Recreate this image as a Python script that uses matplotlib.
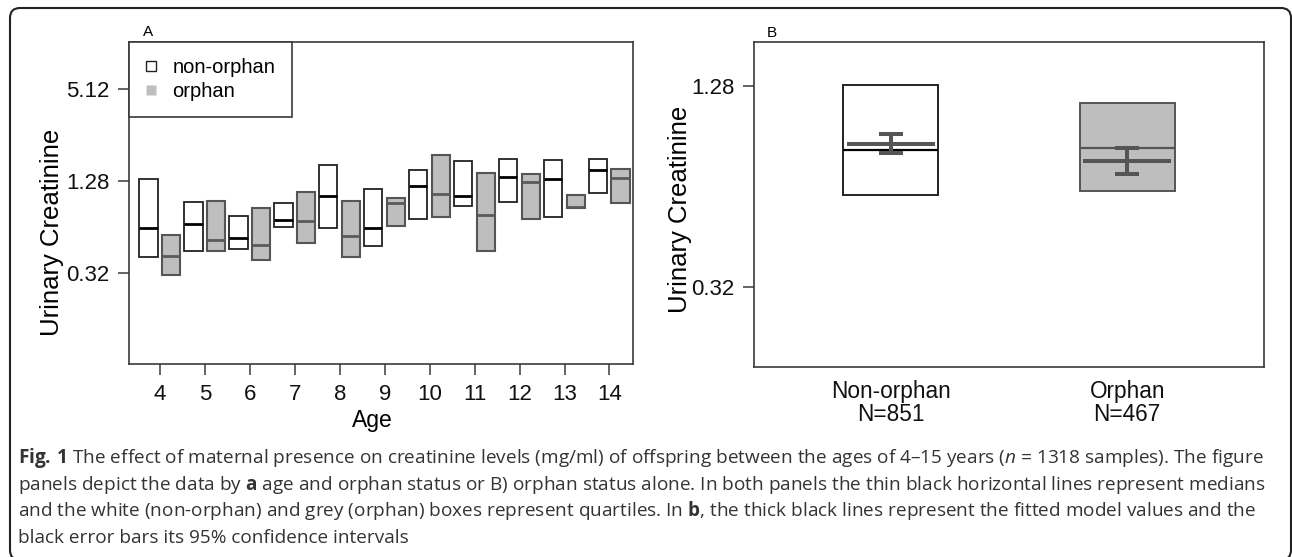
import matplotlib
matplotlib.use('Agg')
import matplotlib.pyplot as plt
from matplotlib.lines import Line2D
from matplotlib.patches import FancyBboxPatch
from matplotlib.ticker import NullLocator
import numpy as np

plt.rcParams['font.family'] = ['Liberation Sans', 'DejaVu Sans']
plt.rcParams['mathtext.fontset'] = 'custom'
plt.rcParams['mathtext.rm'] = 'Open Sans'
plt.rcParams['mathtext.bf'] = 'Open Sans:bold'
plt.rcParams['mathtext.it'] = 'Open Sans:italic'

# Panel A: quartiles and medians by age
ages = [4, 5, 6, 7, 8, 9, 10, 11, 12, 13, 14]
non_q1 = [0.407, 0.448, 0.459, 0.639, 0.628, 0.480, 0.720, 0.883, 0.934, 0.749, 1.074]
non_med = [0.628, 0.667, 0.547, 0.713, 1.027, 0.632, 1.193, 1.021, 1.359, 1.319, 1.509]
non_q3 = [1.312, 0.938, 0.753, 0.915, 1.619, 1.135, 1.509, 1.737, 1.790, 1.746, 1.772]
orph_q1 = [0.311, 0.448, 0.391, 0.507, 0.411, 0.655, 0.745, 0.448, 0.727, 0.849, 0.920]
orph_med = [0.417, 0.530, 0.488, 0.703, 0.564, 0.924, 1.048, 0.764, 1.261, 0.866, 1.332]
orph_q3 = [0.572, 0.953, 0.858, 1.091, 0.948, 0.987, 1.891, 1.436, 1.429, 1.033, 1.525]

# Panel B: by orphan status
groups = ['Non-orphan', 'Orphan']
group_n = [851, 467]
b_q1 = [0.604, 0.619]
b_med = [0.822, 0.833]
b_q3 = [1.283, 1.135]
b_fit = [0.856, 0.761]
b_ci_lo = [0.803, 0.696]
b_ci_hi = [0.918, 0.833]

ytick_vals = [0.32, 1.28, 5.12]
ytick_labels = ['0.32', '1.28', '5.12']

W, H = 1292, 557
fig = plt.figure(figsize=(W / 100, H / 100), dpi=100)

GREY = '#bebebe'
DARK = '#555555'
SPINE = '#3a3a3a'


def px_axes(left, top, right, bottom):
    return fig.add_axes([left / W, 1 - bottom / H, (right - left) / W, (bottom - top) / H])


def style_axes(ax):
    ax.set_yscale('log', base=2)
    ax.yaxis.set_minor_locator(NullLocator())
    for s in ax.spines.values():
        s.set_color(SPINE)
        s.set_linewidth(1.2)
    ax.tick_params(axis='both', direction='out', length=8, width=1.1, color=SPINE,
                   labelsize=16, labelcolor='#111111', pad=6)


# ---- Panel A ----
axA = px_axes(129.3, 41.7, 633.3, 364.3)
style_axes(axA)
x = np.array(ages, dtype=float)
q1 = np.array(non_q1); q3 = np.array(non_q3)
axA.bar(x - 0.255, q3 - q1, bottom=q1, width=0.41, facecolor='white',
        edgecolor='#222222', linewidth=1.3, zorder=2)
axA.hlines(non_med, x - 0.46, x - 0.05, color='black', linewidth=2.0, zorder=3)
q1 = np.array(orph_q1); q3 = np.array(orph_q3)
axA.bar(x + 0.25, q3 - q1, bottom=q1, width=0.41, facecolor=GREY,
        edgecolor=DARK, linewidth=1.5, zorder=2)
axA.hlines(orph_med, x + 0.045, x + 0.455, color='#5a5a5a', linewidth=2.0, zorder=3)

axA.set_xlim(3.32, 14.53)
axA.set_ylim(0.0818, 10.36)
axA.set_xticks(ages)
axA.set_yticks(ytick_vals)
axA.set_yticklabels(ytick_labels)

handles = [
    Line2D([], [], marker='s', ls='none', markersize=6.5, mfc='white', mec='#222222', mew=1.0),
    Line2D([], [], marker='s', ls='none', markersize=7, mfc=GREY, mec='none'),
]
leg = axA.legend(handles, ['non-orphan', 'orphan'], loc='upper left', fontsize=14.5,
                 frameon=True, fancybox=False, edgecolor=SPINE, framealpha=1,
                 borderaxespad=0, borderpad=0.8, labelspacing=0.25,
                 handlelength=0.6, handletextpad=0.75)
leg.get_frame().set_linewidth(1.2)

fig.text(372.5 / W, 1 - 426.7 / H, 'Age', fontsize=16.5, ha='center', va='baseline')
fig.text(52.3 / W, 1 - 231.9 / H, 'Urinary Creatinine', fontsize=18.5, rotation=90,
         ha='center', va='center')
fig.text(148.3 / W, 1 - 32.3 / H, 'A', fontsize=11, ha='center', va='center')

# ---- Panel B ----
axB = px_axes(754.3, 42.0, 1263.7, 367.3)
style_axes(axB)
xb = np.array([1.0, 2.0])
q1 = np.array(b_q1); q3 = np.array(b_q3)
axB.bar(xb, q3 - q1, bottom=q1, width=0.40, facecolor=['white', GREY],
        edgecolor=['#222222', DARK], linewidth=1.4, zorder=2)
axB.hlines(b_med, xb - 0.2, xb + 0.2, color=['black', DARK], linewidth=1.6, zorder=3)
axB.hlines(b_fit, xb - 0.185, xb + 0.185, color=DARK, linewidth=2.9, zorder=4)
fit = np.array(b_fit)
axB.errorbar(xb, fit, yerr=[fit - np.array(b_ci_lo), np.array(b_ci_hi) - fit], fmt='none',
             ecolor=DARK, elinewidth=2.9, capsize=8.4, capthick=2.9, zorder=4)

axB.set_xlim(0.423, 2.577)
axB.set_ylim(0.1845, 1.729)
axB.set_yticks(ytick_vals[:2])
axB.set_yticklabels(ytick_labels[:2])
axB.set_xticks(xb)
axB.set_xticklabels([f'{g}\nN={n}' for g, n in zip(groups, group_n)])
axB.tick_params(axis='x', length=0, pad=9, labelsize=16.3)
for lbl in axB.get_xticklabels():
    lbl.set_linespacing(1.0)

fig.text(679.5 / W, 1 - 209 / H, 'Urinary Creatinine', fontsize=18.5, rotation=90,
         ha='center', va='center')
fig.text(772.2 / W, 1 - 32.6 / H, 'B', fontsize=11, ha='center', va='center')

# ---- Caption ----
caption = [
    r'$\mathbf{Fig.\,1}$ The effect of maternal presence on creatinine levels (mg/ml) of offspring '
    r'between the ages of 4–15 years ($\mathit{n}$ = 1318 samples). The figure',
    r'panels depict the data by $\mathbf{a}$ age and orphan status or B) orphan status alone. '
    r'In both panels the thin black horizontal lines represent medians',
    r'and the white (non-orphan) and grey (orphan) boxes represent quartiles. In $\mathbf{b}$, '
    r'the thick black lines represent the fitted model values and the',
    r'black error bars its 95% confidence intervals',
]
baselines = [463.3, 490.0, 516.5, 543.0]
for line, yb in zip(caption, baselines):
    fig.text(18 / W, 1 - yb / H, line, family='Open Sans', fontsize=13.7, color='#333333',
             ha='left', va='baseline')

# rounded frame around the whole figure
frame = FancyBboxPatch((10, -3), 1281, 552, boxstyle='round,pad=0,rounding_size=10',
                       transform=None, facecolor='none', edgecolor='#222222', linewidth=1.5)
fig.patches.append(frame)

fig.savefig('out.png', dpi=100)
